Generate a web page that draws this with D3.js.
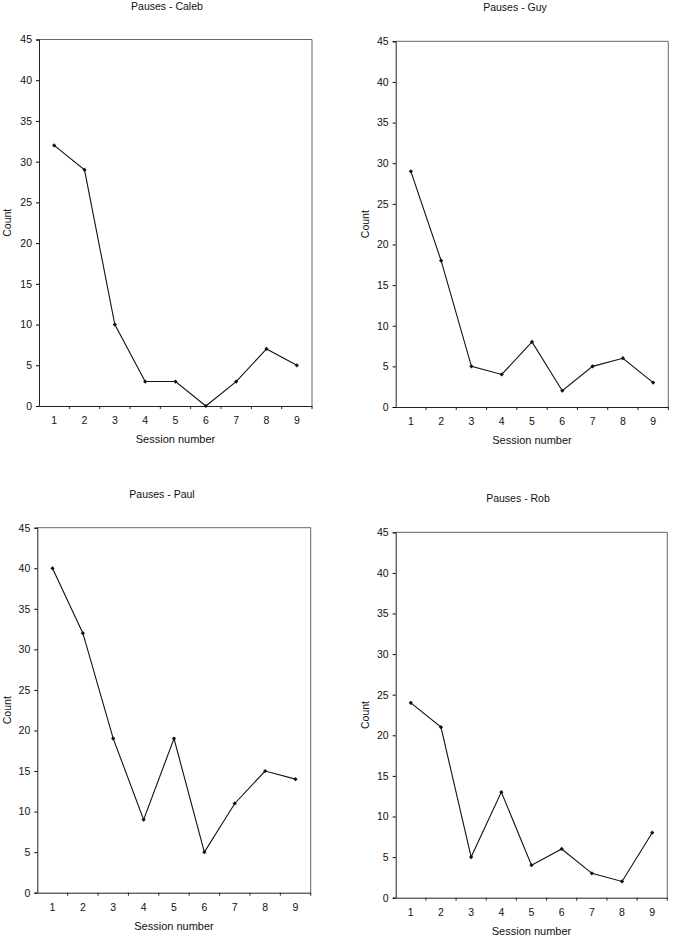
<!DOCTYPE html>
<html>
<head>
<meta charset="utf-8">
<script src="https://cdn.jsdelivr.net/npm/d3@7"></script>
<style>
  body { margin: 0; background: #fff; }
  text { font-family: "Liberation Sans", Arial, sans-serif; fill: #111; }
</style>
</head>
<body>
<script>
const sessions = ["1", "2", "3", "4", "5", "6", "7", "8", "9"];
const yTicks = [0, 5, 10, 15, 20, 25, 30, 35, 40, 45];
const names = ["Caleb", "Guy", "Paul", "Rob"];
const caleb = [32, 29, 10, 3, 3, 0, 3, 7, 5];
const guy = [29, 18, 5, 4, 8, 2, 5, 6, 3];
const paul = [40, 32, 19, 9, 19, 5, 11, 15, 14];
const rob = [24, 21, 5, 13, 4, 6, 3, 2, 8];

// plot boxes
const panels = [
    {values: caleb, left: 39, right: 312, top: 39.5, bottom: 406, titleX: 167, titleY: 7, countX: 8},
    {values: guy, left: 395.7, right: 668.3, top: 41.3, bottom: 407, titleX: 515, titleY: 8, countX: 366},
    {values: paul, left: 37.3, right: 310.7, top: 527.7, bottom: 892.7, titleX: 162, titleY: 495, countX: 8},
    {values: rob, left: 395.7, right: 667.3, top: 532.3, bottom: 897.7, titleX: 518, titleY: 499, countX: 366}
];

const svg = d3.select("body").append("svg")
    .attr("width", 673)
    .attr("height", 938);

panels.forEach((p, idx) => {
    let g = svg.append("g");
    let x = d3.scaleBand().domain(sessions).range([p.left, p.right]);
    let y = d3.scaleLinear().domain([0, 45]).range([p.bottom, p.top]);

    // plot area frame (top / right are faint in the scan)
    g.append("line")
        .attr("x1", p.left).attr("x2", p.right)
        .attr("y1", p.top).attr("y2", p.top)
        .attr("stroke", "#666").attr("stroke-width", 1);
    g.append("line")
        .attr("x1", p.right).attr("x2", p.right)
        .attr("y1", p.top).attr("y2", p.bottom)
        .attr("stroke", "#666").attr("stroke-width", 1);

    let yAxis = g.append("g")
        .attr("transform", `translate(${p.left},0)`)
        .call(d3.axisLeft(y).tickValues(yTicks).tickSize(3).tickPadding(4));
    yAxis.select(".domain").attr("stroke", "#222");
    yAxis.selectAll("text").style("font-size", "10.5px");

    let xAxis = g.append("g")
        .attr("transform", `translate(0,${p.bottom})`)
        .call(d3.axisBottom(x).tickSize(0).tickPadding(11));
    xAxis.select(".domain").attr("stroke", "#222");
    xAxis.selectAll("text").style("font-size", "10.5px");
    // tick marks on the band boundaries
    g.selectAll(".bt")
        .data(sessions.slice(1).concat(["end"]))
        .enter().append("line")
        .attr("x1", (d, i) => p.left + x.step() * (i + 1))
        .attr("x2", (d, i) => p.left + x.step() * (i + 1))
        .attr("y1", p.bottom).attr("y2", p.bottom + 3)
        .attr("stroke", "#222");

    let line = d3.line()
        .x((d, i) => x(sessions[i]) + x.bandwidth() / 2)
        .y(d => y(d));
    g.append("path")
        .datum(p.values)
        .attr("d", line)
        .attr("fill", "none")
        .attr("stroke", "#111")
        .attr("stroke-width", 1.1);

    g.selectAll(".pt")
        .data(p.values)
        .enter().append("path")
        .attr("d", d3.symbol(d3.symbolSquare, 9))
        .attr("transform", (d, i) => `translate(${x(sessions[i]) + x.bandwidth() / 2},${y(d)}) rotate(45)`)
        .attr("fill", "#111");

    g.append("text")
        .attr("x", p.titleX).attr("y", p.titleY)
        .attr("text-anchor", "middle")
        .attr("dominant-baseline", "middle")
        .style("font-size", "10.5px")
        .text("Pauses - " + names[idx]);

    g.append("text")
        .attr("x", (p.left + p.right) / 2)
        .attr("y", p.bottom + 34)
        .attr("text-anchor", "middle")
        .attr("dominant-baseline", "middle")
        .style("font-size", "11px")
        .text("Session number");

    g.append("text")
        .attr("transform", `translate(${p.countX},${(p.top + p.bottom) / 2}) rotate(-90)`)
        .attr("text-anchor", "middle")
        .attr("dominant-baseline", "middle")
        .style("font-size", "10.5px")
        .text("Count");
});
</script>
</body>
</html>
